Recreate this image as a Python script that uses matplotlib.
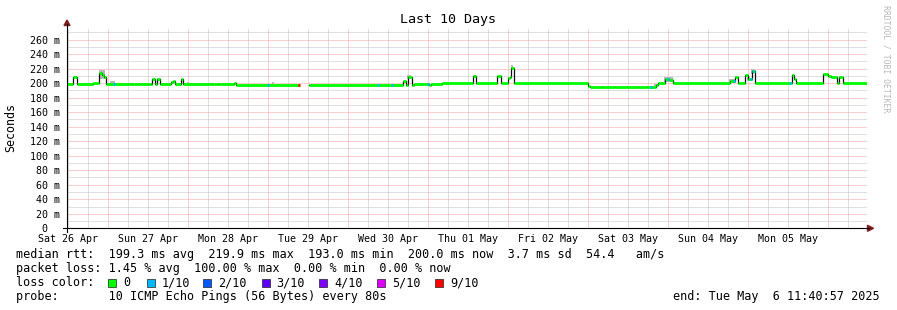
import matplotlib
matplotlib.use("Agg")
import matplotlib.pyplot as plt
from matplotlib.patches import Polygon, Rectangle
from matplotlib.lines import Line2D
import numpy as np

W, H = 897, 310
MONO = "DejaVu Sans Mono"

# median rtt as a step series: hours after start (Sat 26 Apr 11:40:57), value in ms
med_t = [0.0, 1.8, 3.0, 7.8, 9.6, 10.35, 11.1, 11.7, 19.0, 19.4, 21.0, 21.9,
         24.6, 25.2, 25.5, 26.4, 27.0, 27.8, 31.2, 31.8, 32.4, 34.2, 34.8,
         42.9, 43.5, 45.0, 45.3, 50.1, 50.7, 69.6, 72.6, 100.8, 101.7, 102.3,
         103.5, 104.1, 108.6, 109.2, 112.5, 121.8, 122.7, 128.9, 130.2, 132.3,
         132.8, 133.2, 134.0, 156.3, 156.8, 160.5, 164.4, 168.0, 171.3, 174.0,
         176.7, 177.3, 179.4, 180.6, 181.8, 198.9, 200.4, 201.3, 203.4, 204.3,
         205.5, 206.4, 217.5, 218.1, 218.7, 226.8, 228.3, 229.2, 231.0, 231.6,
         232.8]
med_ms = [199, 209, 199, 200.5, 214, 211, 208, 199, 198.3, 199, 198.3, 199,
          198.3, 199, 205, 199, 205, 199, 201.5, 203, 199, 205, 199,
          198.3, 199, 198.3, 199, 200, 198, np.nan, 198, 203, 197, 208,
          197, 198.3, 197.5, 198.3, 200, 210, 200, 210, 200, 207.5,
          209, 221, 200, 196, 194.8, 195.3, 194.8, 195.2, 194.6, 195.0,
          197.5, 200, 205, 204, 200, 203, 209, 200, 210.5, 206,
          216, 200, 210.5, 206, 200, 212.5, 210, 208, 200, 209,
          200]
t_end = 240.0

# columns with packet loss: hour, median there, loss class
loss_t = [13.8, 59.9, 69.3, 93.0, 97.2, 108.0, 174.9, 180.0, 199.8, 204.9, 205.8, 216.6]
loss_ms = [199, 198, 198, 198, 198, 198.3, 195, 205, 203, 206, 216, 200]
loss_cls = ["1/10", "1/10", "9/10", "1/10", "1/10", "1/10", "1/10", "1/10",
            "1/10", "1/10", "1/10", "1/10"]

# smoke (spread of the pings) around the spikes
smoke_t0 = [9.6, 12.9, 36.0, 61.5, 102.0, 133.2, 176.1, 179.1, 198.6, 204.0, 205.2]
smoke_t1 = [11.4, 14.4, 36.6, 62.1, 103.2, 133.8, 177.6, 181.8, 200.4, 204.9, 206.1]
smoke_lo = [206, 199, 199, 199, 206, 219, 196, 201, 200, 203, 212]
smoke_hi = [218, 203, 201.5, 201, 210.5, 224.5, 199, 208, 206, 208, 220]

day_labels = ["Sat 26 Apr", "Sun 27 Apr", "Mon 28 Apr", "Tue 29 Apr", "Wed 30 Apr",
              "Thu 01 May", "Fri 02 May", "Sat 03 May", "Sun 04 May", "Mon 05 May"]
first_noon = 0.317  # hours from start to noon of the first day

loss_names = ["0", "1/10", "2/10", "3/10", "4/10", "5/10", "9/10"]
loss_colors = ["#00ff00", "#00b8ff", "#0059ff", "#5e00ff", "#7e00ff", "#dd00ff", "#ff0000"]
color_of = dict(zip(loss_names, loss_colors))

row1 = "median rtt:  199.3 ms avg  219.9 ms max  193.0 ms min  200.0 ms now  3.7 ms sd  54.4   am/s"
row2 = "packet loss: 1.45 % avg  100.00 % max  0.00 % min  0.00 % now"
row3 = "loss color:"
row4 = "probe:       10 ICMP Echo Pings (56 Bytes) every 80s"
end_txt = "end: Tue May  6 11:40:57 2025"


def fx(x):
    return x / W


def fy(y):
    return 1 - y / H


fig = plt.figure(figsize=(W / 100, H / 100), dpi=100)
fig.patch.set_facecolor("white")

y0_px = 228.3
ppm = 0.726
ymax = 275
ax = fig.add_axes([fx(67), fy(y0_px), 800 / W, ymax * ppm / H])
ax.set_xlim(0, t_end)
ax.set_ylim(0, ymax)
for s in ax.spines.values():
    s.set_visible(False)

# grid, dotted
gkw = dict(lw=0.72, ls=(0, (1, 1)), zorder=1)
minor_x = np.arange(first_noon, t_end, 6)
major_x = np.arange(first_noon + 12, t_end, 24)
ax.vlines([v for v in minor_x if not np.any(np.isclose(v, major_x))], 0, ymax,
          color="#c0c0c0", **gkw)
ax.vlines(major_x, 0, ymax, color="#f4a0a0", **gkw)
ax.hlines(np.arange(10, ymax, 20), 0, t_end, color="#c0c0c0", **gkw)
ax.hlines(np.arange(20, ymax, 20), 0, t_end, color="#f4a0a0", **gkw)

# smoke
ax.bar(smoke_t0, np.array(smoke_hi) - np.array(smoke_lo), bottom=smoke_lo,
       width=np.array(smoke_t1) - np.array(smoke_t0), align="edge",
       color="#b8b8b8", lw=0, zorder=2)

# median
tt = np.array(med_t + [t_end])
vv = np.array(med_ms + [med_ms[-1]])
ax.step(tt, vv, where="post", color="#101010", lw=0.9, zorder=3)
ok = ~np.isnan(np.array(med_ms))
ax.hlines(np.array(med_ms)[ok], tt[:-1][ok], tt[1:][ok], color="#00ff00", lw=2.0, zorder=4)
ax.hlines(loss_ms, np.array(loss_t), np.array(loss_t) + 0.6,
          color=[color_of[c] for c in loss_cls], lw=2.0, zorder=5)

# ticks
ax.set_xticks(first_noon + 24 * np.arange(len(day_labels)), day_labels)
ax.set_yticks(np.arange(0, 261, 20), ["0  "] + ["%d m" % v for v in range(20, 261, 20)])
ax.tick_params(axis="x", length=0, pad=4, labelsize=7.2, labelfontfamily=MONO)
ax.tick_params(axis="y", length=0, pad=5, labelsize=7.2, labelfontfamily=MONO)

# axes with arrows
fig.add_artist(Line2D([fx(62.7), fx(869)], [fy(y0_px), fy(y0_px)], color="black", lw=0.8))
fig.add_artist(Line2D([fx(67), fx(67)], [fy(231.5), fy(24)], color="black", lw=0.8))
fig.add_artist(Polygon([[fx(64), fy(25.5)], [fx(70), fy(25.5)], [fx(67), fy(20)]],
                       closed=True, color="#7f1f1f"))
fig.add_artist(Polygon([[fx(867.5), fy(225.3)], [fx(867.5), fy(231.3)], [fx(873.5), fy(228.3)]],
                       closed=True, color="#7f1f1f"))

# texts
fig.text(fx(448), fy(20), "Last 10 Days", ha="center", va="center", fontsize=9.6, family=MONO)
fig.text(fx(11), fy(127), "Seconds", ha="center", va="center", rotation=90, fontsize=8.4, family=MONO)
fig.text(fx(886), fy(59), "RRDTOOL / TOBI OETIKER", ha="center", va="center", rotation=270,
         fontsize=5.9, family=MONO, color="#b8b8b8")

rows_y = [254.5, 268.5, 282.5, 296.5]
for txt, y in zip([row1, row2, row3, row4], rows_y):
    fig.text(fx(16), fy(y), txt, ha="left", va="center", fontsize=8.5, family=MONO)
fig.text(fx(880), fy(rows_y[3]), end_txt, ha="right", va="center", fontsize=8.5, family=MONO)

box_x = [108, 147, 203, 261.5, 319, 377, 435]
for bx, name, col in zip(box_x, loss_names, loss_colors):
    fig.add_artist(Rectangle((fx(bx), fy(rows_y[2] + 4)), 8 / W, 8 / H, facecolor=col,
                             edgecolor="#202020", lw=0.5, transform=fig.transFigure))
    fig.text(fx(bx + 15), fy(rows_y[2]), name, ha="left", va="center", fontsize=8.5, family=MONO)

fig.savefig("out.png", dpi=100)
